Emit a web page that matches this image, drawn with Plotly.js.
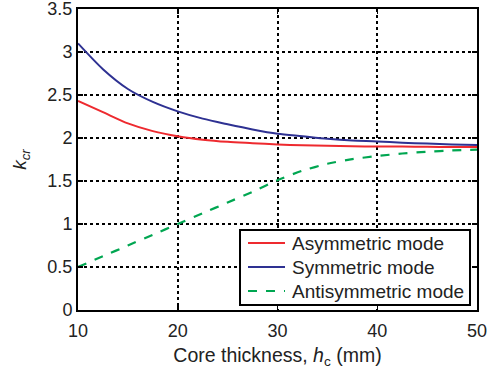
<!DOCTYPE html>
<html>
<head>
<meta charset="utf-8">
<script src="https://cdn.plot.ly/plotly-3.0.1.min.js"></script>
<style>
  html, body { margin: 0; padding: 0; background: #fff; }
  #chart { width: 487px; height: 376px; }
</style>
</head>
<body>
<div id="chart"></div>
<script>
// Core thickness h_c (mm)
const coreThickness = [10, 12.5, 15, 17.5, 20, 22.5, 25, 27.5, 30, 32.5, 35, 37.5, 40, 42.5, 45, 47.5, 50];

// Critical buckling coefficient k_cr for each mode
const asymmetricMode = [2.43, 2.30, 2.17, 2.08, 2.02, 1.98, 1.955, 1.94, 1.925, 1.915, 1.91, 1.905, 1.90, 1.90, 1.897, 1.895, 1.895];
const symmetricMode = [3.10, 2.80, 2.57, 2.42, 2.31, 2.225, 2.16, 2.10, 2.05, 2.02, 1.99, 1.97, 1.96, 1.945, 1.935, 1.925, 1.92];
const antisymmetricMode = [0.50, 0.625, 0.75, 0.875, 1.00, 1.125, 1.25, 1.375, 1.51, 1.62, 1.70, 1.755, 1.79, 1.82, 1.84, 1.855, 1.865];

const seriesNames = ['Asymmetric mode', 'Symmetric mode', 'Antisymmetric mode'];
const seriesColors = ['#ee2a2f', '#2e3192', '#00a651'];
const seriesDash = ['solid', 'solid', 'dash'];
const xTicks = [10, 20, 30, 40, 50];
const yTicks = [0, 0.5, 1, 1.5, 2, 2.5, 3, 3.5];
const yTickLabels = ['0', '0.5', '1', '1.5', '2', '2.5', '3', '3.5'];

const fontFamily = 'Liberation Sans, Arial, Helvetica, sans-serif';
const textColor = '#222';

const seriesValues = [asymmetricMode, symmetricMode, antisymmetricMode];
const traces = seriesValues.map((vals, i) => ({
  x: coreThickness, y: vals, name: seriesNames[i], mode: 'lines',
  line: { color: seriesColors[i], width: i === 2 ? 2.2 : 2, dash: seriesDash[i],
          shape: 'spline', smoothing: i === 2 ? 0.6 : 0.8 }
}));

// Plot-area geometry (px) used to place the boxed key in paper units
const W = 487, H = 376;
const M = { l: 78, r: 10, t: 9, b: 66 };
const plotW = W - M.l - M.r, plotH = H - M.t - M.b;
const px2x = px => (px - M.l) / plotW;
const py2y = py => (H - M.b - py) / plotH;

// Boxed key in the lower-right corner
const key = { left: 240, right: 470, top: 230, bottom: 305, rowTop: 243, rowGap: 24, lineFrom: 248, lineTo: 285, textAt: 290 };
const shapes = [{
  type: 'rect', xref: 'paper', yref: 'paper', layer: 'above',
  x0: px2x(key.left), x1: px2x(key.right), y0: py2y(key.bottom), y1: py2y(key.top),
  fillcolor: '#fff', line: { color: '#000', width: 2 }
}];
const annotations = [];
seriesNames.forEach((name, i) => {
  const yRow = py2y(key.rowTop + i * key.rowGap);
  shapes.push({
    type: 'line', xref: 'paper', yref: 'paper', layer: 'above',
    x0: px2x(key.lineFrom), x1: px2x(key.lineTo), y0: yRow, y1: yRow,
    line: { color: seriesColors[i], width: 2, dash: seriesDash[i] }
  });
  annotations.push({
    xref: 'paper', yref: 'paper', x: px2x(key.textAt), y: yRow,
    xanchor: 'left', yanchor: 'middle', showarrow: false, text: name,
    font: { family: fontFamily, size: 19, color: textColor }
  });
});

const axisCommon = {
  showline: true, linecolor: '#000', linewidth: 2, mirror: 'ticks',
  ticks: 'inside', ticklen: 5, tickwidth: 1.5, tickcolor: '#000',
  showgrid: true, gridcolor: '#000', gridwidth: 2, griddash: 'dot',
  zeroline: false, ticklabeloverflow: 'allow',
  tickfont: { family: fontFamily, size: 18, color: textColor }
};

const layout = {
  width: W, height: H,
  margin: M,
  paper_bgcolor: '#fff', plot_bgcolor: '#fff',
  font: { family: fontFamily, color: textColor },
  showlegend: false,
  xaxis: Object.assign({}, axisCommon, {
    range: [10, 50], tickvals: xTicks, ticklabelstandoff: 3,
    title: { text: 'Core thickness, <i>h</i><sub>c</sub> (mm)', font: { family: fontFamily, size: 19.5, color: textColor }, standoff: 9 }
  }),
  yaxis: Object.assign({}, axisCommon, {
    range: [0, 3.5], tickvals: yTicks, ticktext: yTickLabels,
    title: { text: '<i>k<sub>cr</sub></i>', font: { family: fontFamily, size: 19, color: textColor }, standoff: 16 }
  }),
  shapes: shapes,
  annotations: annotations
};

Plotly.newPlot('chart', traces, layout, { displayModeBar: false, staticPlot: true });
</script>
</body>
</html>
